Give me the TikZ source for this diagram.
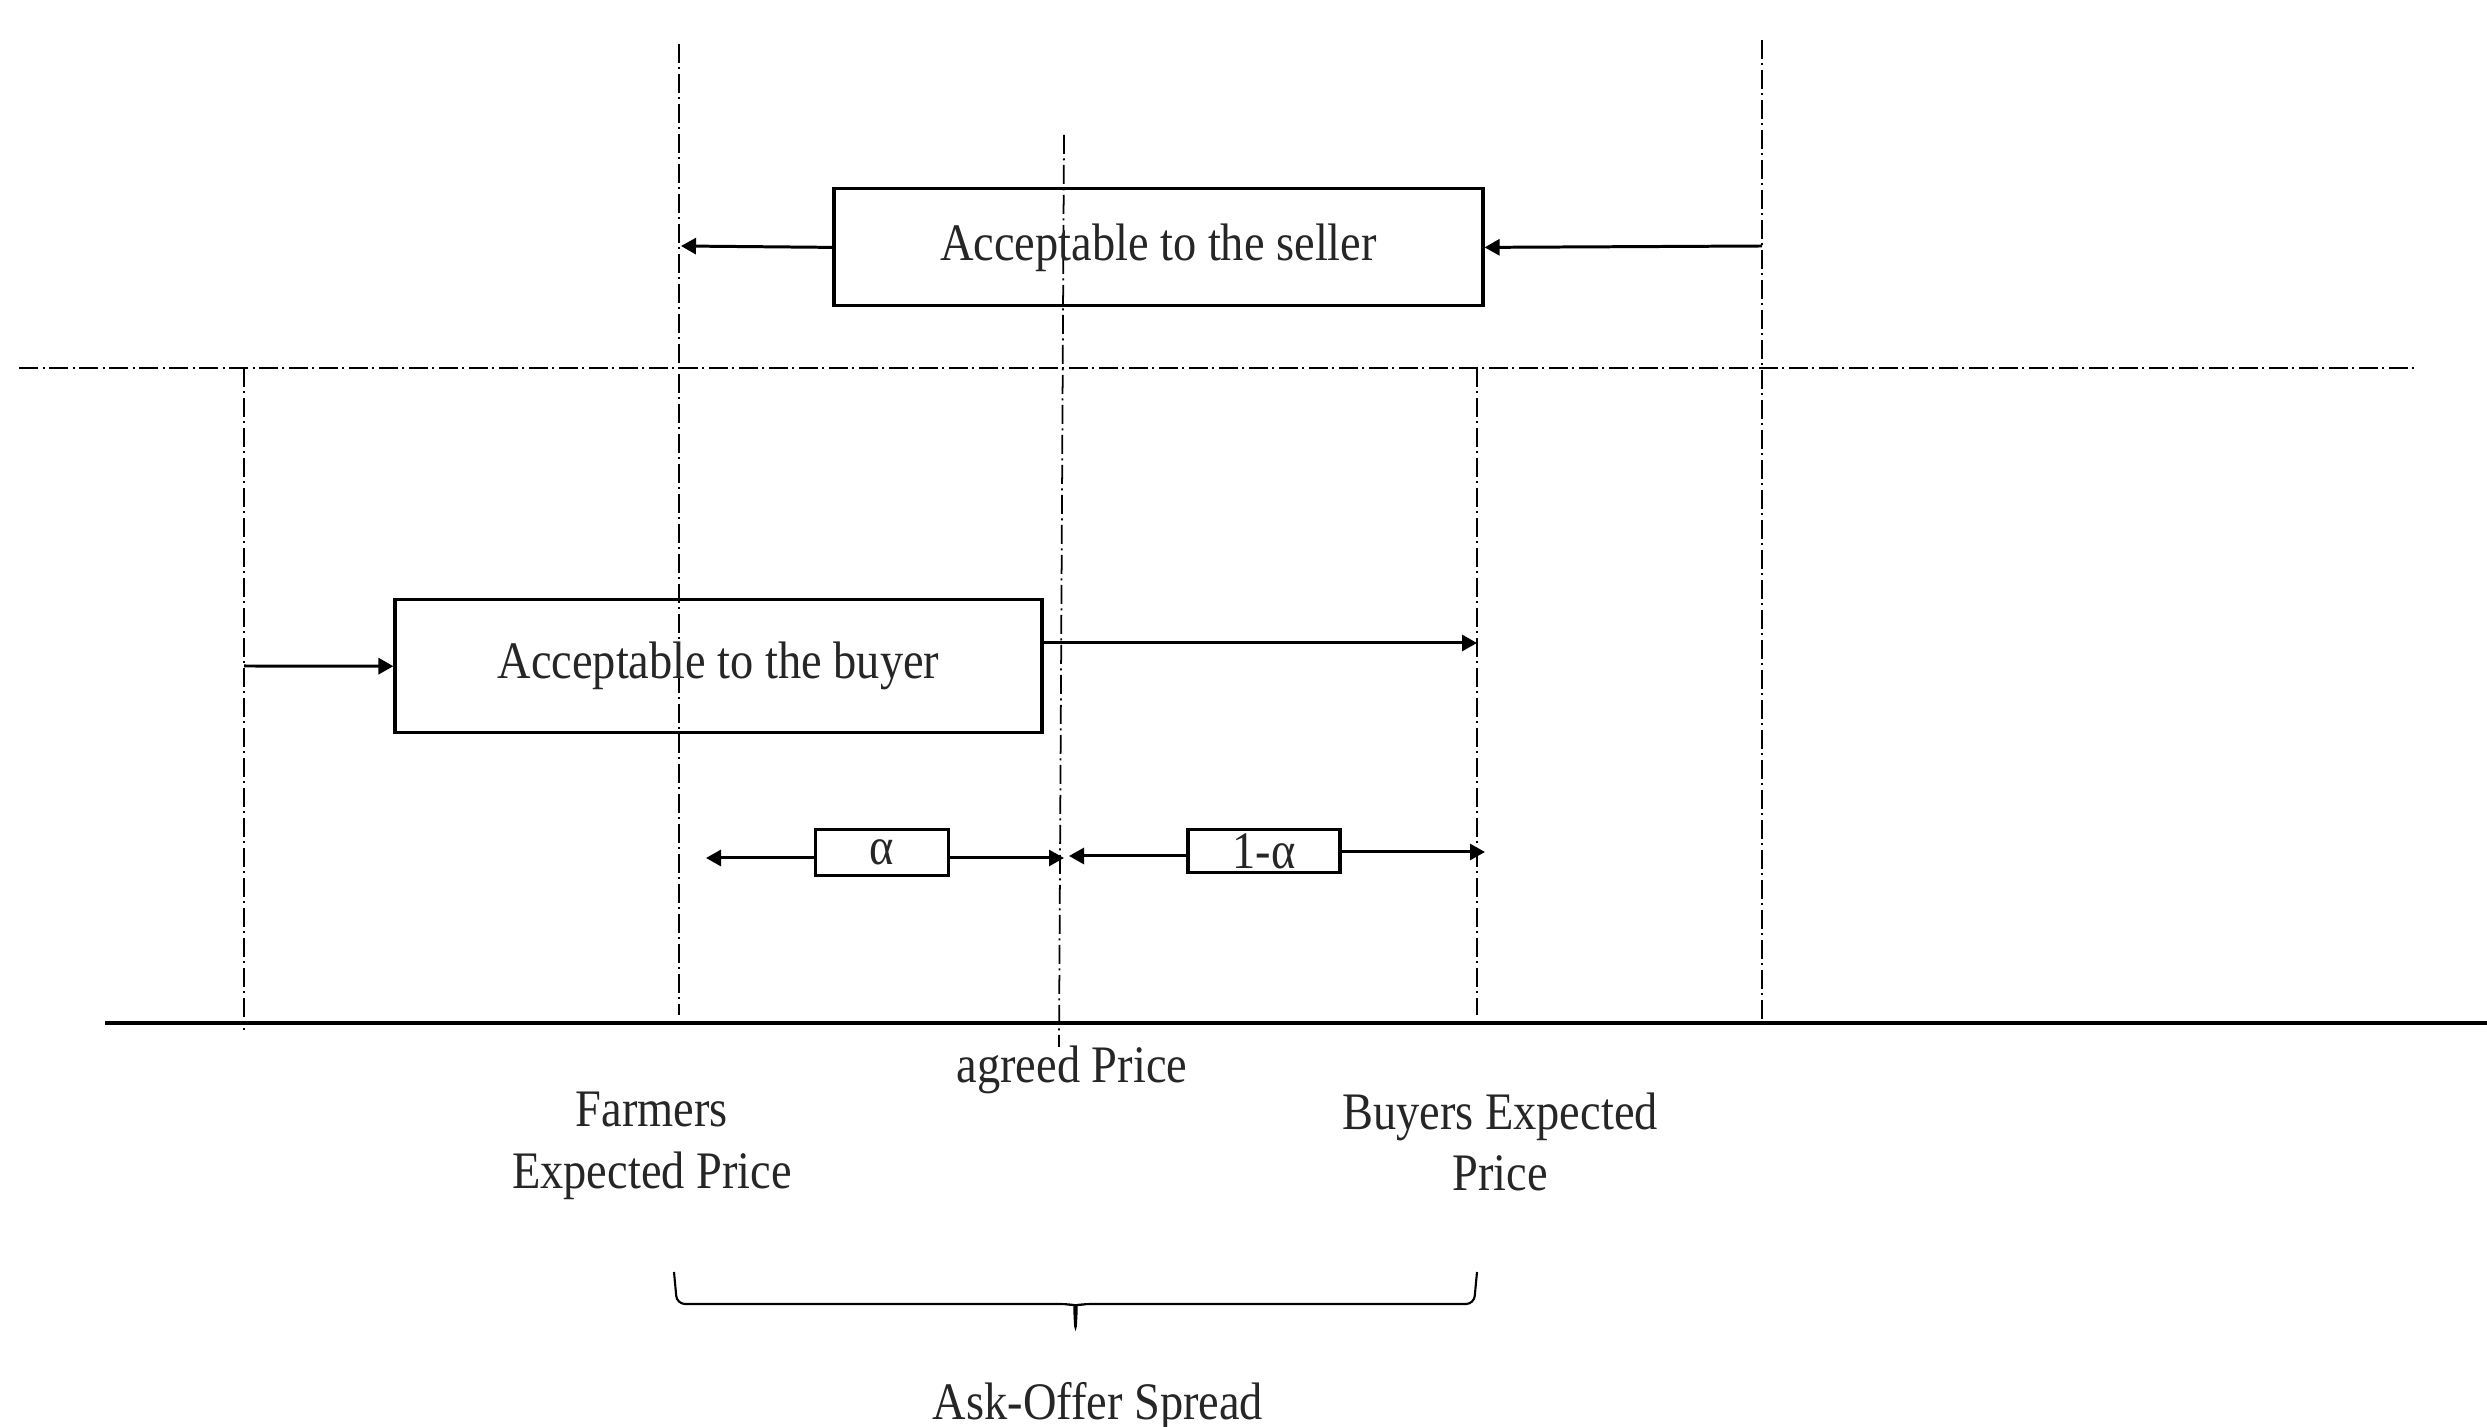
\documentclass[tikz,border=0pt]{standalone}
\usepackage{fontspec}
\setmainfont{Liberation Serif}[FakeStretch=0.88]
\usetikzlibrary{arrows.meta}

\tikzset{
  guide/.style={line width=0.5pt, dash pattern=on 1.9mm off 0.45mm on 0.2mm off 0.45mm},
  pricebox/.style={draw, line width=0.9pt, inner sep=0pt, text=black!85, font=\fontsize{15}{18}\selectfont},
  arr/.style={-{Triangle[length=1.5mm,width=1.6mm]}, line width=0.85pt},
  lbl/.style={font=\fontsize{15}{17.6}\selectfont, text=black!85, align=center, inner sep=0pt}
}

\begin{document}
\begin{tikzpicture}[x=1cm,y=-1cm]
\useasboundingbox (0,0) rectangle (24.87,14.27);

% price levels
\draw[guide] (0.19,3.68) -- (24.14,3.68);
\draw[line width=0.9pt] (1.05,10.23) -- (24.87,10.23);

\foreach \x/\ya/\yb in {2.44/3.68/10.30, 6.79/0.44/10.15, 14.77/3.68/10.15, 17.62/0.40/10.23}
    \draw[guide] (\x,\ya) -- (\x,\yb);
\draw[guide] (10.64,1.35) -- (10.59,10.47);

% arrow ends on the price lines
\coordinate (farmS) at (6.81,2.46);
\coordinate (rightS) at (17.62,2.46);
\coordinate (leftB) at (2.44,6.66);
\coordinate (buyersB) at (14.77,6.43);
\coordinate (alphaL) at (7.06,8.58);
\coordinate (alphaR) at (10.64,8.58);
\coordinate (agreeR) at (10.69,8.56);
\coordinate (buyersA) at (14.85,8.52);

\node[pricebox, minimum width=6.49cm, minimum height=1.17cm] (seller) at (11.585,2.474) {Acceptable to the seller};
\node[pricebox, minimum width=6.47cm, minimum height=1.33cm] (buyer) at (7.185,6.662) {Acceptable to the buyer};
\node[pricebox, minimum width=1.33cm, minimum height=0.46cm] (alpha) at (8.82,8.525) {α};
\node[pricebox, minimum width=1.52cm, minimum height=0.43cm] (oneminus) at (12.64,8.51) {1-α};

\draw[arr] (seller.west) -- (farmS);
\draw[arr] (rightS) -- (seller.east);
\draw[arr] (leftB) -- (buyer.west);
\draw[arr] (buyer.east |- buyersB) -- (buyersB);

\draw[arr] (alpha.west |- alphaL) -- (alphaL);
\draw[arr] (alpha.east |- alphaR) -- (alphaR);
\draw[arr] (oneminus.west |- agreeR) -- (agreeR);
\draw[arr] (oneminus.east |- buyersA) -- (buyersA);

\node[lbl] (agreed) at (10.72,10.70) {agreed Price};
\node[lbl] (farmers) at (6.52,11.46) {Farmers\\Expected Price};
\node[lbl] (buyers) at (15.00,11.42) {Buyers Expected\\Price};

% spread brace
\draw[line width=0.6pt, rounded corners=0.8mm] (6.74,12.72) -- (6.77,13.04) -- (10.68,13.04)
    .. controls (10.74,13.05) .. (10.755,13.32)
    .. controls (10.77,13.05) .. (10.83,13.04) -- (14.74,13.04) -- (14.77,12.72);
\node[lbl] (spread) at (10.98,14.07) {Ask-Offer Spread};

\end{tikzpicture}
\end{document}
